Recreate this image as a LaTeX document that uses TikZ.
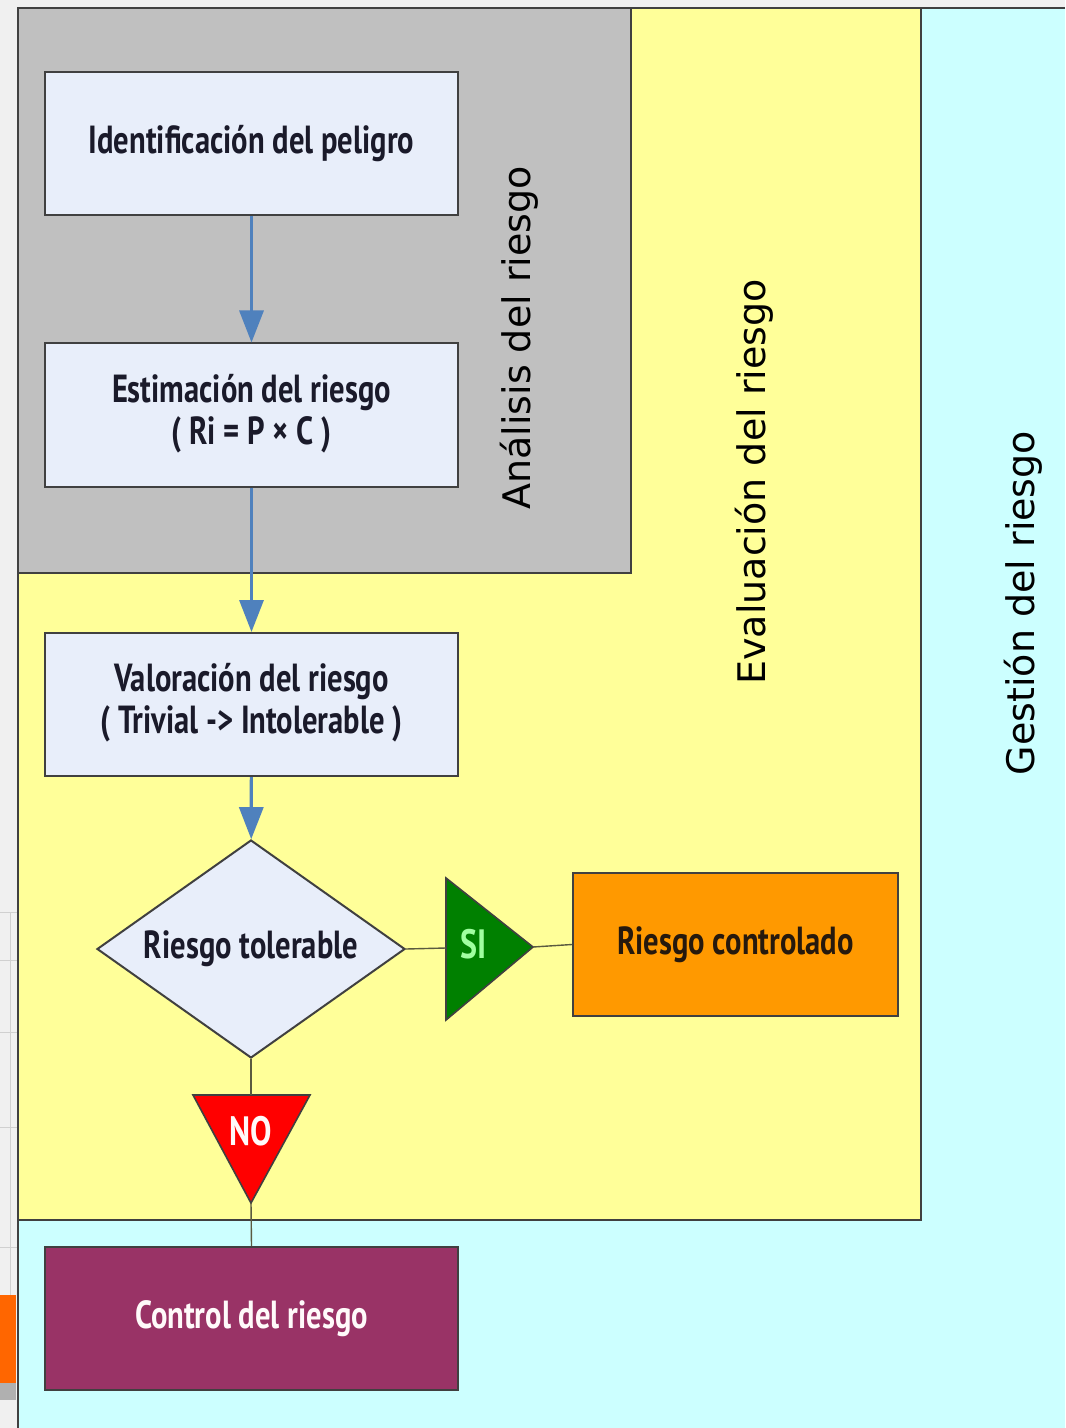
\documentclass[tikz,border=0pt]{standalone}
\usepackage{fontspec}
\setmainfont{PT Sans}
\newfontfamily\labfont{DejaVu Sans}
\usetikzlibrary{shapes.geometric,arrows.meta}
\definecolor{pagebg}{HTML}{F0F0F0}
\definecolor{gridln}{HTML}{D0D0D0}
\definecolor{slideorange}{HTML}{FF6600}
\definecolor{slidegray}{HTML}{B0B0B0}
\definecolor{gestbg}{HTML}{CCFFFF}
\definecolor{evalbg}{HTML}{FFFF99}
\definecolor{analbg}{HTML}{C0C0C0}
\definecolor{boxbg}{HTML}{E8EEFA}
\definecolor{edge}{HTML}{404040}
\definecolor{conn}{HTML}{5A5A40}
\definecolor{arrowblue}{HTML}{4F81BD}
\definecolor{okorange}{HTML}{FF9900}
\definecolor{ctrlpurple}{HTML}{993366}
\definecolor{sigreen}{HTML}{008000}
\definecolor{silight}{HTML}{A0FFA0}
\definecolor{nored}{HTML}{FF0000}
\definecolor{txtdark}{HTML}{1A1A2A}
\newcommand{\stt}[1]{\scalebox{1}[1.28]{#1}}
\begin{document}
\begin{tikzpicture}[x=0.5pt,y=-0.5pt,
  region/.style={draw=edge,line width=1pt},
  stepbox/.style={draw=edge,line width=1pt,fill=boxbg,minimum width=206.5pt,minimum height=71.5pt,inner sep=0pt,text=txtdark,font=\bfseries\fontsize{15.3}{16.4}\selectfont,align=center},
  flowarrow/.style={draw=arrowblue,line width=1.6pt,-{Triangle[width=12pt,length=16pt]}},
  link/.style={draw=conn,line width=0.7pt},
  sidelabel/.style={rotate=90,anchor=base,font=\labfont\fontsize{19}{19}\selectfont,text=black}
]
\useasboundingbox (0,0) rectangle (1065,1428);
% slide background strip
\fill[pagebg] (0,0) rectangle (1065,1428);
\draw[gridln,line width=0.5pt] (10,912) -- (10,1295);
\foreach \yy in {912,960,1032,1127,1247} \draw[gridln,line width=0.5pt] (0,\yy) -- (17,\yy);
\fill[slideorange] (0,1295) rectangle (16,1383);
\fill[slidegray] (0,1383) rectangle (16,1400);
% regions
\fill[gestbg] (18,8) rectangle (1065,1428);
\draw[region] (1065,8) -- (18,8) -- (18,1428);
\filldraw[region,fill=evalbg] (18,8) rectangle (921,1220);
\filldraw[region,fill=analbg] (18,8) rectangle (631,573);
% side labels
\node[sidelabel] (lanal) at (530,338) {Análisis del riesgo};
\node[sidelabel] (leval) at (765,482) {Evaluación del riesgo};
\node[sidelabel] (lgest) at (1034,603) {Gestión del riesgo};
% boxes
\node[stepbox] (ident) at (251.5,143.5) {\stt{Identificación del peligro}};
\node[stepbox] (estim) at (251.5,415) {\stt{\begin{tabular}{@{}c@{}}Estimación del riesgo\\( Ri = P × C )\end{tabular}}};
\node[stepbox] (valor) at (251.5,704.5) {\stt{\begin{tabular}{@{}c@{}}Valoración del riesgo\\( Trivial -> Intolerable )\end{tabular}}};
\node[diamond,draw=edge,line width=1pt,fill=boxbg,aspect=1.413,minimum width=154pt,minimum height=109pt,inner sep=0pt,text=txtdark,font=\bfseries\fontsize{15.3}{16.4}\selectfont] (toler) at (251,949) {\stt{Riesgo tolerable}};
\node[stepbox,fill=okorange,minimum width=162.5pt,text={black!80!brown}] (contr) at (735.5,944.5) {\stt{Riesgo controlado}};
\node[stepbox,fill=ctrlpurple,text={white!92!pink}] (ctrl) at (251.5,1318.5) {\stt{Control del riesgo}};
% SI triangle
\coordinate (siA) at (446,878);
\coordinate (siL) at (446,948);
\coordinate (siB) at (446,1020);
\coordinate (siT) at (533,947);
\filldraw[draw=edge,line width=0.8pt,fill=sigreen] (siA) -- (siT) -- (siB) -- cycle;
\node[text=silight,font=\bfseries\fontsize{16}{16}\selectfont] (silab) at (474,944) {\stt{SI}};
% NO triangle
\coordinate (noA) at (193,1095);
\coordinate (noM) at (251,1095);
\coordinate (noB) at (310,1095);
\coordinate (noT) at (251,1203);
\filldraw[draw=edge,line width=0.8pt,fill=nored] (noA) -- (noB) -- (noT) -- cycle;
\node[text={white!90!pink},font=\bfseries\fontsize{16}{16}\selectfont] (nolab) at (251,1131) {\stt{NO}};
% connectors
\draw[flowarrow] (ident) -- (estim);
\draw[flowarrow] (estim) -- (valor);
\draw[flowarrow] (valor) -- (toler);
\draw[link] (toler.east) -- (siL);
\draw[link] (siT) -- (contr.west);
\draw[link] (toler.south) -- (noM);
\draw[link] (noT) -- (ctrl.north);
\end{tikzpicture}
\end{document}
